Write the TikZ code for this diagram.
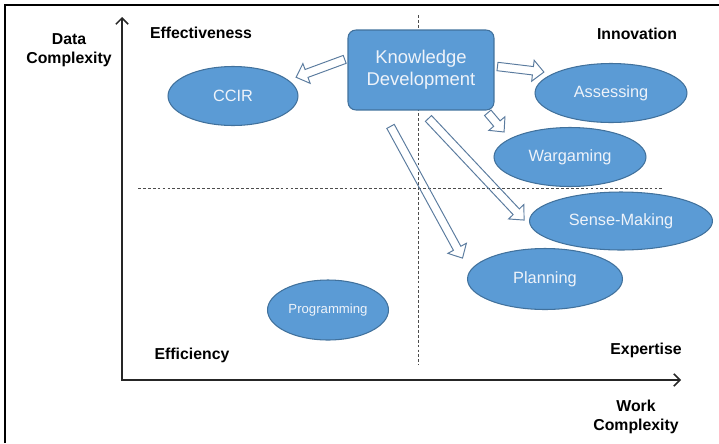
\documentclass[tikz,border=0pt]{standalone}
\usepackage{fontspec}
\setmainfont{Liberation Sans}
\usetikzlibrary{calc,shapes.geometric,arrows.meta}

\definecolor{blobfill}{HTML}{5B9BD5}
\definecolor{blobline}{HTML}{41719C}
\definecolor{blobtext}{HTML}{EEF3FA}
\definecolor{arrowline}{HTML}{5A7B9E}

\begin{document}
\begin{tikzpicture}[x=0.02cm,y=-0.02cm,
    quad/.style={font=\fontsize{9}{11}\selectfont\bfseries, align=center},
    blob/.style={ellipse, draw=blobline, fill=blobfill, text=blobtext, inner sep=0pt,
      line width=0.6pt, font=\fontsize{9.3}{11}\selectfont},
    quadline/.style={gray!60!black, line width=0.45pt, dash pattern=on 1.6pt off 1.2pt},
    axis/.style={line width=0.9pt, black!85, {Straight Barb[length=3.5pt,width=7pt]}-{Straight Barb[length=3.5pt,width=7pt]}},
    hollow/.style 2 args={draw=arrowline, line width=0.55pt, line join=miter,
      to path={let \p1=(\tikztostart), \p2=(\tikztotarget), \n1={atan2(\y2-\y1,\x2-\x1)} in
        let \p3=($(\p1)+(\n1:#1)$), \p4=($(\p2)+(\n1+180:#2)$), \n2={veclen(\x4-\x3,\y4-\y3)} in
        ($(\p3)+(\n1+90:2.4pt)$) -- ++(\n1:\n2-6.3pt) -- ++(\n1+90:3.6pt) -- (\p4)
        -- ($(\p3)+(\n1:\n2-6.3pt)+(\n1-90:6pt)$) -- ++(\n1+90:3.6pt)
        -- ($(\p3)+(\n1-90:2.4pt)$) -- cycle}}]
  \useasboundingbox (0,0) rectangle (719,443);
  %\draw[help lines,step=50] (0,0) grid (719,443);

  \draw[line width=1.2pt] (5,443) -- (5,5) -- (719,5);

  % quadrants
  \draw[quadline] (418,15) -- (418,365);
  \draw[quadline] (138,188) -- (663,188);

  \coordinate (ytop) at (122,17);
  \coordinate (orig) at (122,380);
  \coordinate (xend) at (681,380);
  \draw[axis] (ytop) -- (orig) -- (xend);

  \node[quad] (ylab) at (69,50) {Data\\Complexity};
  \node[quad] (xlab) at (636,417) {Work\\Complexity};
  \node[quad] (effect) at (201,33) {Effectiveness};
  \node[quad] (innov) at (637,34) {Innovation};
  \node[quad] (effic) at (192,355) {Efficiency};
  \node[quad] (exper) at (646,350) {Expertise};

  \node[draw=blobline, fill=blobfill, text=blobtext, line width=0.6pt, rounded corners=4.5pt,
    minimum width=2.92cm, minimum height=1.6cm, align=center,
    font=\fontsize{10.5}{12.6}\selectfont] (kd) at (421,70) {Knowledge\\Development};

  \node[blob, minimum width=2.6cm, minimum height=1.18cm] (ccir) at (233,96) {CCIR};
  \node[blob, minimum width=3.04cm, minimum height=1.18cm] (assess) at (611,93) {Assessing};
  \node[blob, minimum width=3.04cm, minimum height=1.18cm] (wargame) at (570,157) {Wargaming};
  \node[blob, minimum width=3.66cm, minimum height=1.16cm] (sense) at (621,221) {Sense-Making};
  \node[blob, minimum width=3.1cm, minimum height=1.22cm] (plan) at (545,279) {Planning};
  \node[blob, minimum width=2.42cm, minimum height=1.2cm,
    font=\fontsize{7.5}{9}\selectfont] (prog) at (328,310) {Programming};

  \draw[hollow={1.7pt}{4.6pt}] (kd.171) to (ccir.16);
  \draw[hollow={1.7pt}{5.5pt}] (kd.3) to (assess.161);
  \draw[hollow={1.7pt}{4.9pt}] (kd.-32) to (wargame.163);
  \draw[hollow={6.2pt}{6.8pt}] (kd.-90) to (sense.185);
  \draw[hollow={10.3pt}{8.4pt}] (kd.-134) to (plan.174);
\end{tikzpicture}
\end{document}
